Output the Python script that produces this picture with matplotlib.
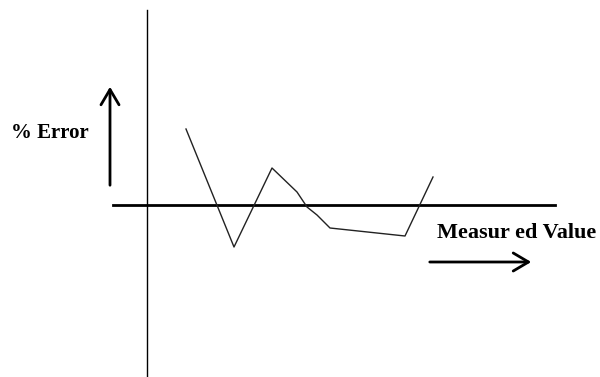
import matplotlib
matplotlib.use('Agg')
import matplotlib.pyplot as plt

# Error curve, origin at the axis crossing
meas_x = [39, 87, 125, 150, 160, 170, 183, 258, 286]
err_y = [76, -42, 37, 13, -2, -10, -23, -31, 28]

fig = plt.figure(figsize=(6, 3.77), dpi=100)
ax = fig.add_axes([0, 0, 1, 1])
ax.set_xlim(-147, 453)
ax.set_ylim(-172, 205)
ax.axis('off')

# Axes
ax.plot([-34, 408], [0, 0], color='black', lw=2)
ax.plot([0, 0], [-172, 195], color='black', lw=1)

# Curve
ax.plot(meas_x, err_y, color='#222222', lw=1)

# Direction arrows
head = '->,head_length=1.1,head_width=0.65'
ax.annotate('', xy=(-37, 121), xytext=(-37, 17),
            arrowprops=dict(arrowstyle=head, lw=2, color='black'))
ax.annotate('', xy=(387, -57), xytext=(280, -57),
            arrowprops=dict(arrowstyle=head, lw=2, color='black'))

ax.text(-136, 72, '% Error', fontsize=15, fontweight='bold',
        family='Liberation Serif', va='center', ha='left')
ax.text(290, -28, 'Measur ed Value', fontsize=16, fontweight='bold',
        family='Liberation Serif', va='center', ha='left')

fig.savefig('out.png', dpi=100)
